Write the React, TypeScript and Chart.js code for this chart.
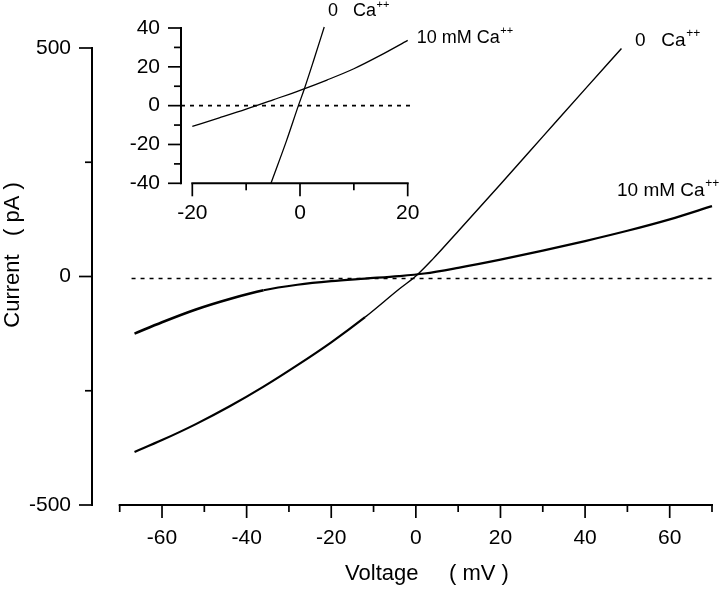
import React, { useEffect, useRef } from 'react';
import { Chart, registerables } from 'chart.js';

Chart.register(...registerables);

const FONT = '"Liberation Sans", Arial, Helvetica, sans-serif';

// ---------- Main I-V plot data ----------
const main0CaVoltage = [-66.5, -60, -52, -44, -36, -28, -20, -12, -4, 0, 4, 10, 20, 30, 40, 48.6];
const main0CaCurrent = [-384, -358, -323, -284, -241, -194, -144, -89, -28, 1, 38, 99, 202, 306, 410, 499];

const main10CaVoltage = [-66.5, -60, -52, -44, -36, -28, -20, -12, -4, 2, 10, 20, 30, 40, 50, 60, 70];
const main10CaCurrent = [-125, -100, -72, -49, -30, -18, -10, -4.5, 0.8, 6.5, 19, 37, 56.5, 77.5, 100, 125, 154];

const mainZeroVoltage = [-67.2, 70];
const mainZeroCurrent = [-4.4, -4.4];

const mainXTicks = [-70, -60, -50, -40, -30, -20, -10, 0, 10, 20, 30, 40, 50, 60, 70];
const mainXLabels = [-60, -40, -20, 0, 20, 40, 60];
const mainYTicks = [-500, -250, 0, 250, 500];
const mainYLabels = [-500, 0, 500];

// ---------- Inset data ----------
const inset0CaVoltage = [-5.4, -2.5, -0.3, 0.8, 2.5, 4.5];
const inset0CaCurrent = [-40, -18, 0, 8.6, 23, 40.5];

const inset10CaVoltage = [-20, -15, -10, -5, 0, 5, 10, 15, 20];
const inset10CaCurrent = [-10.7, -6.3, -1.8, 3.0, 7.9, 13.2, 19, 26, 33.6];

const insetZeroVoltage = [-22.1, 20.8];
const insetZeroCurrent = [0, 0];

const insetXTicks = [-20, -10, 0, 10, 20];
const insetXLabels = [-20, 0, 20];
const insetYTicks = [-40, -30, -20, -10, 0, 10, 20, 30, 40];
const insetYLabels = [-40, -20, 0, 20, 40];

const seriesNames = ['0   Ca', '10 mM Ca'];
const xTitle = 'Voltage     ( mV )';
const yTitle = 'Current   ( pA )';

const toPoints = (xs: number[], ys: number[]) => xs.map((x, i) => ({ x, y: ys[i] }));

type CurveLabel = { datasetIndex: number; text: string; dx: number; dy: number; size: number };
type DecoCfg = {
  xTicks: number[];
  xLabels: number[];
  yTicks: number[];
  yLabels: number[];
  majorLen: number;
  minorLen: number;
  curveLabels: CurveLabel[];
  titles?: boolean;
};

function decoPlugin(cfg: DecoCfg) {
  return {
    id: 'deco',
    afterDraw(chart: any) {
      const { ctx, chartArea, scales } = chart;
      const xs = scales.x;
      const ys = scales.y;
      ctx.save();
      ctx.strokeStyle = '#000';
      ctx.fillStyle = '#000';
      ctx.lineCap = 'butt';

      // y axis line
      ctx.lineWidth = 2;
      const yTop = ys.getPixelForValue(cfg.yTicks[cfg.yTicks.length - 1]);
      const yBot = ys.getPixelForValue(cfg.yTicks[0]);
      ctx.beginPath();
      ctx.moveTo(chartArea.left, yTop - 1);
      ctx.lineTo(chartArea.left, yBot + 1);
      ctx.stroke();
      ctx.lineWidth = 1.7;
      for (const v of cfg.yTicks) {
        const p = ys.getPixelForValue(v);
        const len = cfg.yLabels.includes(v) ? cfg.majorLen : cfg.minorLen;
        ctx.beginPath();
        ctx.moveTo(chartArea.left, p);
        ctx.lineTo(chartArea.left - len, p);
        ctx.stroke();
      }

      // x axis line
      ctx.lineWidth = 2;
      const xL = xs.getPixelForValue(cfg.xTicks[0]);
      const xR = xs.getPixelForValue(cfg.xTicks[cfg.xTicks.length - 1]);
      const yb = chartArea.bottom;
      ctx.beginPath();
      ctx.moveTo(xL - 1, yb);
      ctx.lineTo(xR + 1, yb);
      ctx.stroke();
      ctx.lineWidth = 1.7;
      for (const v of cfg.xTicks) {
        const p = xs.getPixelForValue(v);
        const len = cfg.xLabels.includes(v) ? cfg.majorLen : cfg.minorLen;
        ctx.beginPath();
        ctx.moveTo(p, yb);
        ctx.lineTo(p, yb + len);
        ctx.stroke();
      }

      // curve labels with superscript ++
      for (const lab of cfg.curveLabels) {
        const data = chart.data.datasets[lab.datasetIndex].data;
        const last = data[data.length - 1];
        const px = xs.getPixelForValue(last.x) + lab.dx;
        const py = ys.getPixelForValue(last.y) + lab.dy;
        ctx.textAlign = 'left';
        ctx.textBaseline = 'alphabetic';
        ctx.font = `${lab.size}px ${FONT}`;
        ctx.fillText(lab.text, px, py);
        const w = ctx.measureText(lab.text).width;
        ctx.font = `${Math.round(lab.size * 0.63)}px ${FONT}`;
        ctx.fillText('++', px + w + 0.5, py - lab.size * 0.47);
      }

      // axis titles
      if (cfg.titles) {
        ctx.font = `22px ${FONT}`;
        ctx.textAlign = 'center';
        ctx.textBaseline = 'alphabetic';
        ctx.fillText(xTitle, chartArea.left + 335, chartArea.bottom + 75);
        ctx.save();
        ctx.translate(19, chartArea.top + 207);
        ctx.rotate(-Math.PI / 2);
        ctx.fillText(yTitle, 0, 0);
        ctx.restore();
      }
      ctx.restore();
    },
  };
}

const lineDs = (data: any[], width: number, dash: number[] = [], noisyBelow?: number, noisyWidth?: number) => ({
  data,
  borderColor: '#000',
  backgroundColor: '#000',
  borderWidth: width,
  borderDash: dash,
  pointRadius: 0,
  showLine: true,
  fill: false,
  cubicInterpolationMode: 'monotone' as const,
  clip: false as any,
  segment:
    noisyBelow !== undefined
      ? { borderWidth: (c: any) => (c.p0.parsed.x < noisyBelow ? noisyWidth : width) }
      : undefined,
});

function makeScales(opts: {
  xMin: number; xMax: number; yMin: number; yMax: number;
  xTicks: number[]; xLabels: number[]; yTicks: number[]; yLabels: number[];
  yWidth: number; xHeight: number; xPad: number; yPad: number;
}) {
  const tickFont = { family: FONT, size: 21 };
  return {
    x: {
      type: 'linear' as const,
      min: opts.xMin,
      max: opts.xMax,
      afterBuildTicks: (s: any) => { s.ticks = opts.xTicks.map((v) => ({ value: v })); },
      afterFit: (s: any) => { s.height = opts.xHeight; },
      ticks: {
        autoSkip: false,
        maxRotation: 0,
        padding: opts.xPad,
        color: '#000',
        font: tickFont,
        callback: (v: any) => (opts.xLabels.includes(Number(v)) ? String(v) : ''),
      },
      grid: { display: false, drawTicks: true, tickLength: 13 },
      border: { display: false },
    },
    y: {
      type: 'linear' as const,
      min: opts.yMin,
      max: opts.yMax,
      afterBuildTicks: (s: any) => { s.ticks = opts.yTicks.map((v) => ({ value: v })); },
      afterFit: (s: any) => { s.width = opts.yWidth; },
      ticks: {
        autoSkip: false,
        padding: opts.yPad,
        color: '#000',
        font: tickFont,
        callback: (v: any) => (opts.yLabels.includes(Number(v)) ? String(v) : ''),
      },
      grid: { display: false, drawTicks: true, tickLength: 13 },
      border: { display: false },
    },
  };
}

export default function App() {
  const mainRef = useRef<HTMLCanvasElement>(null);
  const insetRef = useRef<HTMLCanvasElement>(null);

  useEffect(() => {
    const main = new Chart(mainRef.current!, {
      type: 'scatter',
      data: {
        datasets: [
          lineDs(toPoints(main0CaVoltage, main0CaCurrent), 1.4, [], -12, 2.2),
          lineDs(toPoints(main10CaVoltage, main10CaCurrent), 2.2, [], -36, 2.6),
          lineDs(toPoints(mainZeroVoltage, mainZeroCurrent), 1.7, [4, 5]),
        ] as any,
      },
      options: {
        responsive: false,
        animation: false,
        devicePixelRatio: 1,
        events: [],
        layout: { padding: { top: 48, right: 2, left: 0, bottom: 0 } },
        plugins: { legend: { display: false }, tooltip: { enabled: false } },
        scales: makeScales({
          xMin: -76.55, xMax: 70, yMin: -500, yMax: 500,
          xTicks: mainXTicks, xLabels: mainXLabels, yTicks: mainYTicks, yLabels: mainYLabels,
          yWidth: 92, xHeight: 87, xPad: 8, yPad: 8,
        }) as any,
      },
      plugins: [
        decoPlugin({
          xTicks: mainXTicks, xLabels: mainXLabels, yTicks: mainYTicks, yLabels: mainYLabels,
          majorLen: 13, minorLen: 7, titles: true,
          curveLabels: [
            { datasetIndex: 0, text: seriesNames[0], dx: 13.5, dy: -2.7, size: 19 },
            { datasetIndex: 1, text: seriesNames[1], dx: -95, dy: -10.6, size: 19 },
          ],
        }),
      ],
    });

    const inset = new Chart(insetRef.current!, {
      type: 'scatter',
      data: {
        datasets: [
          lineDs(toPoints(inset0CaVoltage, inset0CaCurrent), 1.3),
          lineDs(toPoints(inset10CaVoltage, inset10CaCurrent), 1.3),
          lineDs(toPoints(insetZeroVoltage, insetZeroCurrent), 1.7, [4, 5]),
        ] as any,
      },
      options: {
        responsive: false,
        animation: false,
        devicePixelRatio: 1,
        events: [],
        layout: { padding: { top: 28, right: 132.3, left: 0, bottom: 0 } },
        plugins: { legend: { display: false }, tooltip: { enabled: false } },
        scales: makeScales({
          xMin: -22.1, xMax: 20, yMin: -40, yMax: 40,
          xTicks: insetXTicks, xLabels: insetXLabels, yTicks: insetYTicks, yLabels: insetYLabels,
          yWidth: 81, xHeight: 46.7, xPad: 4.5, yPad: 8,
        }) as any,
      },
      plugins: [
        decoPlugin({
          xTicks: insetXTicks, xLabels: insetXLabels, yTicks: insetYTicks, yLabels: insetYLabels,
          majorLen: 13, minorLen: 7,
          curveLabels: [
            { datasetIndex: 0, text: seriesNames[0], dx: 3.7, dy: -11, size: 18 },
            { datasetIndex: 1, text: seriesNames[1], dx: 9, dy: 2.3, size: 18 },
          ],
        }),
      ],
    });

    return () => {
      main.destroy();
      inset.destroy();
    };
  }, []);

  return (
    <div style={{ position: 'fixed', left: 0, top: 0, width: 720, height: 592, background: '#fff' }}>
      <canvas
        ref={mainRef}
        width={720}
        height={592}
        style={{ position: 'absolute', left: 0, top: 0, width: 720, height: 592 }}
      />
      <canvas
        ref={insetRef}
        width={440}
        height={230}
        style={{ position: 'absolute', left: 100, top: 0, width: 440, height: 230 }}
      />
    </div>
  );
}
